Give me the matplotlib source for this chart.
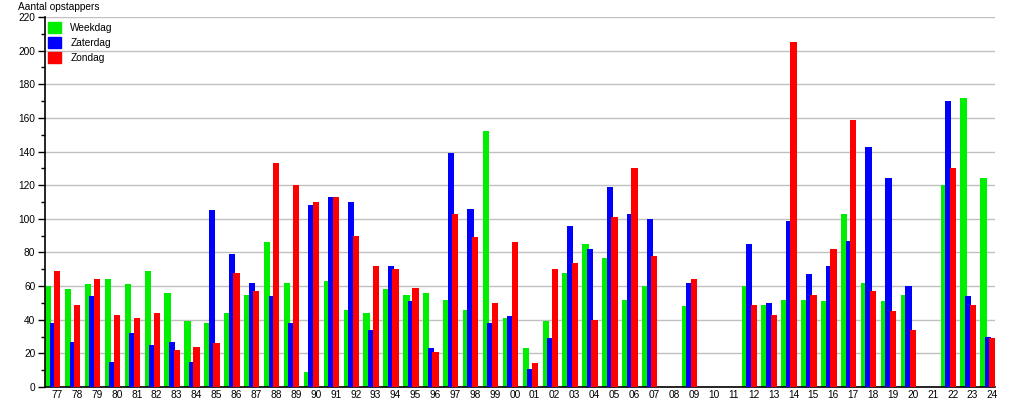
import matplotlib
matplotlib.use("Agg")
import matplotlib.pyplot as plt
from matplotlib.patches import Rectangle
from matplotlib.ticker import MultipleLocator
import numpy as np

years = ['77', '78', '79', '80', '81', '82', '83', '84', '85', '86', '87', '88',
         '89', '90', '91', '92', '93', '94', '95', '96', '97', '98', '99', '00',
         '01', '02', '03', '04', '05', '06', '07', '08', '09', '10', '11', '12',
         '13', '14', '15', '16', '17', '18', '19', '20', '21', '22', '23', '24']

weekdag = [60, 58, 61, 64, 61, 69, 56, 39, 38, 44, 55, 86,
           62, 9, 63, 46, 44, 58, 55, 56, 52, 46, 152, 41,
           23, 39, 68, 85, 77, 52, 60, 0, 48, 0, 0, 60,
           49, 52, 52, 51, 103, 62, 51, 55, 0, 120, 172, 124]
zaterdag = [38, 27, 54, 15, 32, 25, 27, 15, 105, 79, 62, 54,
            38, 108, 113, 110, 34, 72, 51, 23, 139, 106, 38, 42,
            11, 29, 96, 82, 119, 103, 100, 0, 62, 0, 0, 85,
            50, 99, 67, 72, 87, 143, 124, 60, 0, 170, 54, 30]
zondag = [69, 49, 64, 43, 41, 44, 22, 24, 26, 68, 57, 133,
          120, 110, 113, 90, 72, 70, 59, 21, 103, 89, 50, 86,
          14, 70, 74, 40, 101, 130, 78, 0, 64, 0, 0, 49,
          43, 205, 55, 82, 159, 57, 45, 34, 0, 130, 49, 29]

series_names = ['Weekdag', 'Zaterdag', 'Zondag']
colors = ['#00ee00', '#0000ff', '#ff0000']

plt.rcParams['font.family'] = ['Liberation Sans', 'DejaVu Sans']
plt.rcParams['font.size'] = 7.3

fig = plt.figure(figsize=(10.15, 4.0), dpi=100)
ax = fig.add_axes([45 / 1015, 13 / 400, 950 / 1015, 370 / 400])

x = np.arange(len(years))
w = 0.317
step = 0.23
# bars overlap slightly, later series drawn on top
for i, (vals, c) in enumerate(zip([weekdag, zaterdag, zondag], colors)):
    ax.bar(x + (i - 1) * step, vals, width=w, color=c, zorder=2 + i, linewidth=0)

ax.set_xlim(-0.39, 47.35)
ax.set_ylim(0, 220)
ax.set_xticks(x + 0.22)
ax.set_xticklabels(years)
ax.tick_params(axis='x', length=0, pad=2)
ax.yaxis.set_major_locator(MultipleLocator(20))
ax.yaxis.set_minor_locator(MultipleLocator(10))
ax.tick_params(axis='y', which='major', length=5, width=1, pad=2)
ax.tick_params(axis='y', which='minor', length=3, width=1)
ax.grid(axis='y', color='#c0c0c0', linewidth=1, zorder=0)
ax.set_axisbelow(True)
for s in ['top', 'right']:
    ax.spines[s].set_visible(False)
ax.spines['left'].set_linewidth(1.2)
ax.spines['bottom'].set_linewidth(1.2)

fig.text(18 / 1015, 1 - 2 / 400, 'Aantal opstappers', ha='left', va='top')

handles = [Rectangle((0, 0), 1, 1, color=c) for c in colors]
ax.legend(handles, series_names, loc='upper left',
          bbox_to_anchor=(46 / 1015, 1 - 20 / 400), bbox_transform=fig.transFigure,
          frameon=False, handlelength=1.29, handleheight=1.29, handletextpad=0.9,
          labelspacing=0.4, borderpad=0.2, borderaxespad=0)

fig.savefig('out.png', dpi=100)
